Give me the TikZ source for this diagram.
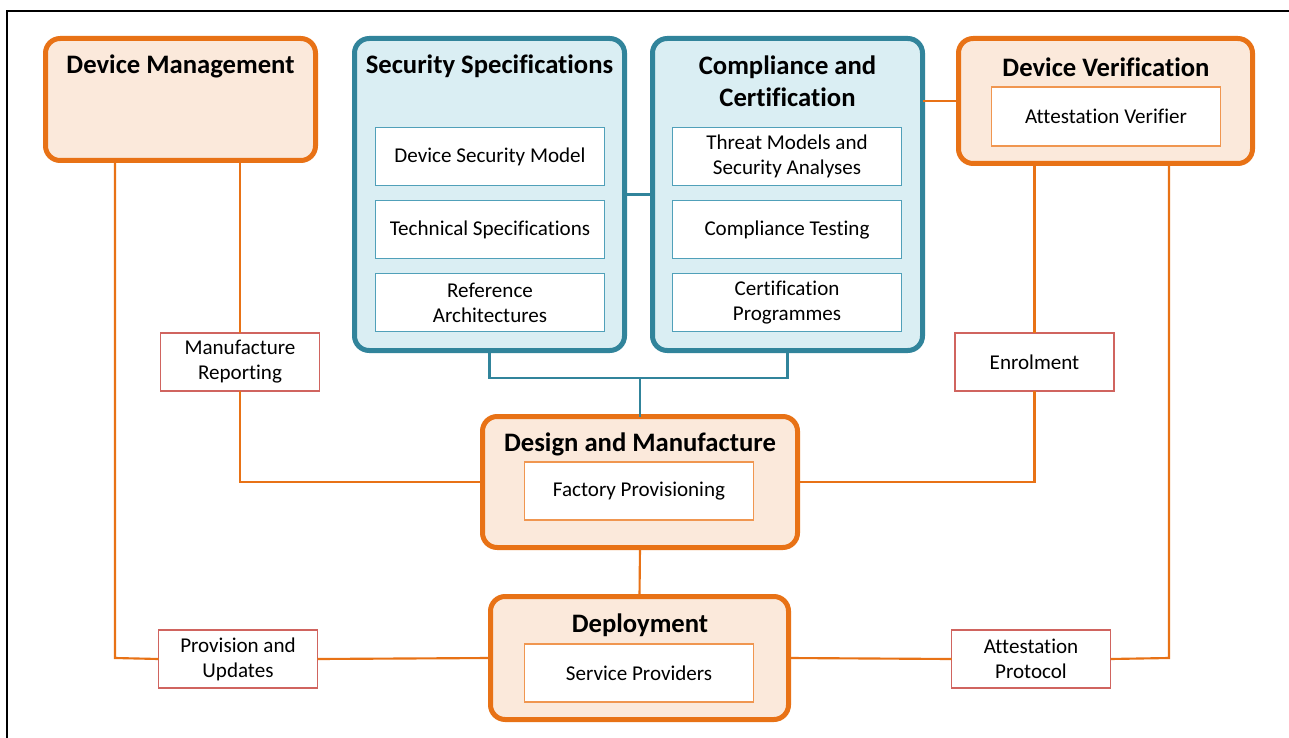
\documentclass[tikz,border=0pt]{standalone}
\usepackage{fontspec}
\setmainfont{Carlito}[Ligatures={NoCommon,NoContextual},Contextuals=NoAlternate]
\definecolor{orng}{RGB}{232,114,22}
\definecolor{orngfill}{RGB}{251,233,219}
\definecolor{orngthin}{RGB}{240,150,80}
\definecolor{teal}{RGB}{49,132,155}
\definecolor{tealfill}{RGB}{218,238,243}
\definecolor{tealthin}{RGB}{80,160,185}
\definecolor{lblred}{RGB}{208,100,95}
\begin{document}
\begin{tikzpicture}[x=0.75pt,y=-0.75pt,
  sz/.style 2 args={minimum width=#1*0.75pt, minimum height=#2*0.75pt, inner sep=0pt, outer sep=0pt},
  bigorange/.style={draw=orng, fill=orngfill, line width=3.75pt, rounded corners=11pt},
  bigteal/.style={draw=teal, fill=tealfill, line width=3.75pt, rounded corners=11pt},
  innerteal/.style={draw=tealthin, fill=white, line width=0.8pt, align=center, font=\fontsize{15.8}{18.8}\selectfont},
  innerorange/.style={draw=orngthin, fill=white, line width=0.8pt, align=center, font=\fontsize{15.8}{18.8}\selectfont},
  lbl/.style={draw=lblred, fill=white, line width=0.8pt, align=center, font=\fontsize{15.8}{18.8}\selectfont},
  ttl/.style={font=\bfseries\fontsize{20}{24}\selectfont, align=center, inner sep=0pt},
  oline/.style={draw=orng, line width=1.6pt},
  tline/.style={draw=teal, line width=1.6pt}]
\useasboundingbox (0,0) rectangle (1289,738);
\fill[white] (0,0) rectangle (1289,738);
% frame
\draw[black, line width=1.5pt] (7,738) -- (7,11) -- (1289,11);

% big boxes
\node[bigorange, sz={270}{122}] (DM) at (180.5,99.5) {};
\node[bigteal, sz={270}{312}] (SS) at (489.5,194.5) {};
\node[bigteal, sz={270}{312}] (CC) at (787.5,194.5) {};
\node[bigorange, sz={294}{125}] (DV) at (1105.5,101) {};
\node[bigorange, sz={315}{131}] (DMF) at (640,482) {};
\node[bigorange, sz={298}{123}] (DEP) at (639.5,658) {};

% titles
\node[ttl] (tDM) at (180.5,66) {Device Management};
\node[ttl] (tSS) at (489.5,66) {Security Specifications};
\node[ttl] (tCC) at (787.5,81) {Compliance and\\Certification};
\node[ttl] (tDV) at (1106,67.5) {Device Verification};
\node[ttl] (tDMF) at (640,444) {Design and Manufacture};
\node[ttl] (tDEP) at (640,625.5) {Deployment};

% inner boxes
\node[innerteal, sz={229}{58}] (ss1) at (490,156.5) {Device Security Model};
\node[innerteal, sz={229}{58}] (ss2) at (490,229.5) {Technical Specifications};
\node[innerteal, sz={229}{58}] (ss3) at (490,302.5) {Reference\\Architectures};
\node[innerteal, sz={229}{58}] (cc1) at (787,156.5) {Threat Models and\\Security Analyses};
\node[innerteal, sz={229}{58}] (cc2) at (787,229.5) {Compliance Testing};
\node[innerteal, sz={229}{58}] (cc3) at (787,302.5) {Certification\\Programmes};
\node[innerorange, sz={229}{59}] (dv1) at (1106,116.5) {Attestation Verifier};
\node[innerorange, sz={229}{58}] (dmf1) at (639,491) {Factory Provisioning};
\node[innerorange, sz={229}{58}] (dep1) at (639,673) {Service Providers};

% labels
\node[lbl, sz={159}{58}] (MR) at (240,362) {Manufacture\\Reporting};
\node[lbl, sz={159}{58}] (EN) at (1034.5,362) {Enrolment};
\node[lbl, sz={159}{58}] (PU) at (238,659) {Provision and\\Updates};
\node[lbl, sz={159}{58}] (AP) at (1031,659) {Attestation\\Protocol};

% teal connectors
\coordinate (tj) at (640,378);
\draw[tline] (SS.east) -- (CC.west);
\draw[tline] (SS.south) |- (tj) -| (CC.south);
\draw[tline] (tj) -- (DMF.north);

% orange connectors
\draw[oline] (CC.east |- DV.west) -- (DV.west);
\draw[oline] (MR.north) -- (MR.north |- DM.south);
\draw[oline] (MR.south) |- (DMF.west);
\coordinate (lft) at (115,658);
\draw[oline] (lft |- DM.south) -- (lft) -- (PU.west);
\draw[oline] (PU.east) -- (DEP.west);
\draw[oline] (EN.north) -- (EN.north |- DV.south);
\draw[oline] (EN.south) |- (DMF.east);
\coordinate (rgt) at (1169,658);
\draw[oline] (rgt |- DV.south) -- (rgt) -- (AP.east);
\draw[oline] (AP.west) -- (DEP.east);
\draw[oline] (DMF.south) -- (DEP.north);
\end{tikzpicture}
\end{document}
